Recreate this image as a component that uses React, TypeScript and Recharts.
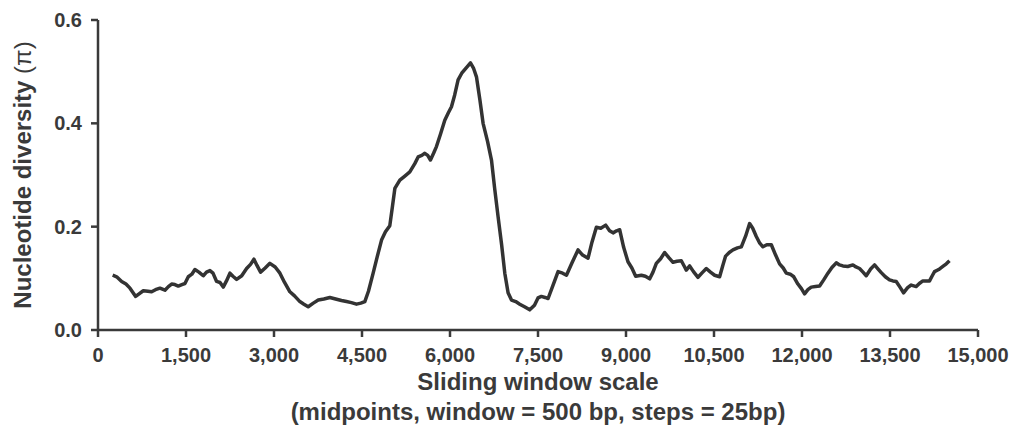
import React from 'react';
import { LineChart, Line, XAxis, YAxis, Label } from 'recharts';

// sliding window midpoints (bp) and nucleotide diversity
const positions = [
  250, 318, 403, 477, 545, 642, 700, 772, 850, 914, 980, 1056, 1141, 1200, 1255, 1310, 1368, 1430, 1482, 1539,
  1600, 1652, 1720, 1794, 1850, 1908, 1960, 2022, 2080, 2135, 2190, 2249, 2300, 2363, 2450, 2533, 2600, 2658,
  2710, 2771, 2850, 2930, 3020, 3101, 3180, 3271, 3350, 3441, 3510, 3583, 3670, 3754, 3850, 3952, 4050, 4150,
  4236, 4320, 4406, 4480, 4548, 4610, 4690, 4760, 4833, 4900, 4974, 5020, 5060, 5145, 5230, 5315, 5400, 5457,
  5520, 5571, 5620, 5667, 5720, 5769, 5840, 5911, 5970, 6025, 6080, 6138, 6200, 6280, 6349, 6400, 6451, 6510,
  6564, 6640, 6707, 6760, 6820, 6880, 6934, 6990, 7048, 7120, 7189, 7270, 7359, 7440, 7500, 7558, 7620, 7672,
  7760, 7842, 7920, 7985, 8080, 8182, 8260, 8353, 8420, 8495, 8570, 8654, 8720, 8779, 8840, 8893, 8960, 9034,
  9100, 9165, 9262, 9330, 9404, 9460, 9517, 9590, 9659, 9730, 9801, 9870, 9943, 10000, 10028, 10085, 10150,
  10227, 10300, 10369, 10440, 10511, 10596, 10650, 10698, 10760, 10823, 10900, 10966, 11040, 11107, 11160,
  11221, 11280, 11334, 11400, 11477, 11550, 11618, 11680, 11732, 11800, 11860, 11930, 11990, 12044, 12100,
  12158, 12230, 12300, 12370, 12442, 12510, 12584, 12640, 12698, 12780, 12868, 12920, 12981, 13040, 13095,
  13170, 13237, 13290, 13351, 13420, 13492, 13550, 13606, 13670, 13731, 13800, 13862, 13947, 14000, 14060,
  14120, 14174, 14220, 14259, 14330, 14401, 14460, 14514,
];

const diversity = [
  0.106, 0.103, 0.094, 0.089, 0.081, 0.065, 0.07, 0.076, 0.075, 0.074, 0.078, 0.081, 0.077, 0.084, 0.089, 0.088,
  0.085, 0.088, 0.09, 0.103, 0.108, 0.117, 0.112, 0.105, 0.112, 0.115, 0.11, 0.094, 0.092, 0.083, 0.095, 0.11,
  0.104, 0.098, 0.105, 0.119, 0.127, 0.137, 0.125, 0.112, 0.12, 0.129, 0.122, 0.11, 0.092, 0.074, 0.066, 0.055,
  0.05, 0.045, 0.052, 0.058, 0.06, 0.063, 0.06, 0.057, 0.055, 0.053, 0.05, 0.052, 0.055, 0.075, 0.11, 0.142,
  0.174, 0.19, 0.202, 0.24, 0.274, 0.29, 0.298, 0.306, 0.322, 0.335, 0.338, 0.342, 0.338, 0.329, 0.342, 0.355,
  0.38, 0.406, 0.42, 0.432, 0.455, 0.484, 0.497, 0.508, 0.517, 0.507, 0.49, 0.445, 0.4, 0.365, 0.329, 0.275,
  0.219, 0.165, 0.11, 0.072, 0.058, 0.055, 0.05, 0.045, 0.039, 0.048, 0.062, 0.065, 0.063, 0.061, 0.088, 0.113,
  0.11, 0.106, 0.13, 0.155, 0.145, 0.139, 0.17, 0.199, 0.197, 0.203, 0.192, 0.188, 0.192, 0.194, 0.16, 0.132,
  0.12, 0.104, 0.106, 0.104, 0.099, 0.112, 0.129, 0.138, 0.15, 0.14, 0.131, 0.133, 0.134, 0.122, 0.116, 0.124,
  0.113, 0.102, 0.111, 0.119, 0.112, 0.106, 0.103, 0.125, 0.143, 0.15, 0.155, 0.159, 0.161, 0.182, 0.206,
  0.197, 0.181, 0.168, 0.161, 0.165, 0.165, 0.145, 0.128, 0.12, 0.11, 0.108, 0.103, 0.089, 0.08, 0.07, 0.078,
  0.083, 0.084, 0.085, 0.097, 0.11, 0.121, 0.13, 0.126, 0.124, 0.123, 0.126, 0.122, 0.119, 0.112, 0.105,
  0.118, 0.126, 0.119, 0.111, 0.103, 0.097, 0.095, 0.094, 0.083, 0.072, 0.082, 0.087, 0.084, 0.09, 0.095,
  0.095, 0.095, 0.105, 0.113, 0.117, 0.123, 0.128, 0.134,
];

const xTicks = [0, 1500, 3000, 4500, 6000, 7500, 9000, 10500, 12000, 13500, 15000];
const yTicks = [0, 0.2, 0.4, 0.6];

const ink = '#3a3a3a';
const font = '"Liberation Sans", Arial, Helvetica, sans-serif';

const data = positions.map((x, i) => ({ x, pi: diversity[i] }));

const XTitle = () => (
  <g fontFamily={font} fontWeight="bold" fontSize={24} fill={ink} textAnchor="middle">
    <text x={538} y={390}>Sliding window scale</text>
    <text x={538} y={420}>(midpoints, window = 500 bp, steps = 25bp)</text>
  </g>
);

const YTitle = () => (
  <text
    x={22}
    y={175}
    transform="rotate(-90, 22, 175)"
    textAnchor="middle"
    dominantBaseline="central"
    fontFamily={font}
    fontWeight="bold"
    fontSize={24}
    fill={ink}
  >
    Nucleotide diversity <tspan fontWeight="normal">(π)</tspan>
  </text>
);

const tickStyle = { fill: ink, fontSize: 20, fontWeight: 'bold', fontFamily: font };

export default function App() {
  return (
    <div style={{ position: 'absolute', left: 0, top: 0, background: '#fff' }}>
      <LineChart width={1015} height={429} data={data} margin={{ top: 20, right: 37, bottom: 0, left: 0 }}>
        <XAxis
          type="number"
          dataKey="x"
          domain={[0, 15000]}
          ticks={xTicks}
          interval={0}
          tickFormatter={(v: number) => v.toLocaleString('en-US')}
          height={99}
          tickSize={7}
          tickMargin={11}
          axisLine={{ stroke: ink, strokeWidth: 2.5 }}
          tickLine={{ stroke: ink, strokeWidth: 2.5 }}
          tick={tickStyle}
        >
          <Label content={<XTitle />} />
        </XAxis>
        <YAxis
          type="number"
          domain={[0, 0.6]}
          ticks={yTicks}
          interval={0}
          tickFormatter={(v: number) => v.toFixed(1)}
          width={98}
          tickSize={7}
          tickMargin={9}
          axisLine={{ stroke: ink, strokeWidth: 2.5 }}
          tickLine={{ stroke: ink, strokeWidth: 2.5 }}
          tick={tickStyle}
        >
          <Label content={<YTitle />} />
        </YAxis>
        <Line
          type="linear"
          dataKey="pi"
          stroke="#333333"
          strokeWidth={3.5}
          strokeLinejoin="round"
          dot={false}
          isAnimationActive={false}
        />
      </LineChart>
    </div>
  );
}
